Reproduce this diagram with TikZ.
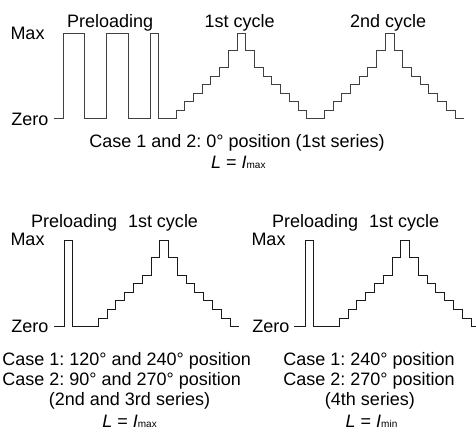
\documentclass[tikz,border=0pt]{standalone}
\usepackage{fontspec}
\setmainfont{Liberation Sans}
\frenchspacing
\begin{document}
\begin{tikzpicture}[x=1pt,y=-1pt,
  wave/.style={line width=0.9pt,draw=black!90,line join=miter},
  wavetop/.style={wave,draw=black!75},
  lbl/.style={inner sep=0pt,outer sep=0pt,anchor=base west,font=\fontsize{18}{21}\selectfont\frenchspacing},
  clbl/.style={lbl,anchor=base},
]
\useasboundingbox (0,0) rectangle (476,432);
\newcommand\subtxt[1]{{\fontsize{10}{12}\selectfont #1}}

% ---------- top panel ----------
\node[lbl] (tmax) at (10.5,39) {Max};
\node[lbl] (tzero) at (11.3,125) {Zero};
\node[lbl] (tpre) at (67,27.3) {Preloading};
\node[lbl] (tc1) at (204.7,27.3) {1st cycle};
\node[lbl] (tc2) at (350,27.3) {2nd cycle};
\node[clbl] (tcase) at (237,147.3) {Case 1 and 2: 0° position (1st series)};
\node[clbl] (tl) at (238.3,168) {\textit{L} = \textit{I}\subtxt{max}};

\draw[wavetop] (54,118.5) -- (63,118.5) |- (84,33.5) |- (106,118.5) |- (128,33.5)
  |- (150,118.5) |- (158,33.5) |- (176,118.5)
  \foreach \k/\l in {1/1,2/2,3/3,4/4,5/5,6/6,7/8,8/10,9/8,10/6,11/5,12/4,13/3,14/2,15/1}
    { |- ({176+8.72*\k},{118.5-8.5*\l}) }
  |- (324.24,118.5)
  \foreach \k/\l in {1/1,2/2,3/3,4/4,5/5,6/6,7/8,8/10,9/8,10/6,11/5,12/4,13/3,14/2,15/1}
    { |- ({324.24+8.72*\k},{118.5-8.5*\l}) }
  |- (463.76,118.5);

% ---------- bottom left panel ----------
\node[lbl] (lpre) at (31,227.3) {Preloading};
\node[lbl] (lc1) at (128,227.3) {1st cycle};
\node[lbl] (lmax) at (10.5,245.5) {Max};
\node[lbl] (lzero) at (11.3,332) {Zero};
\node[lbl] (lcase1) at (2.4,365) {Case 1: 120° and 240° position};
\node[lbl] (lcase2) at (2.4,385) {Case 2: 90° and 270° position};
\node[clbl] (lser) at (129.5,405) {(2nd and 3rd series)};
\node[clbl] (ll) at (129.6,427) {\textit{L} = \textit{I}\subtxt{max}};

\draw[wave] (54,326.7) -- (64,326.7) |- (72.3,240.7) |- (98.3,326.7)
  \foreach \k/\l in {1/1,2/2,3/3,4/4,5/5,6/6,7/8,8/10,9/8,10/6,11/5,12/4,13/3,14/2,15/1}
    { |- ({98.3+8.78*\k},{326.7-8.6*\l}) }
  |- (238.5,326.7);

% ---------- bottom right panel ----------
\node[lbl] (rpre) at (272,227.3) {Preloading};
\node[lbl] (rc1) at (369,227.3) {1st cycle};
\node[lbl] (rmax) at (251.5,245.5) {Max};
\node[lbl] (rzero) at (252.3,332) {Zero};
\node[lbl] (rcase1) at (283.4,365) {Case 1: 240° position};
\node[lbl] (rcase2) at (283.4,385) {Case 2: 270° position};
\node[clbl] (rser) at (370,405) {(4th series)};
\node[clbl] (rl) at (371.5,427) {\textit{L} = \textit{I}\subtxt{min}};

\draw[wave] (294.3,326.7) -- (305,326.7) |- (313.3,240.7) |- (339.3,326.7)
  \foreach \k/\l in {1/1,2/2,3/3,4/4,5/5,6/6,7/8,8/10,9/8,10/6,11/5,12/4,13/3,14/2,15/1}
    { |- ({339.3+8.78*\k},{326.7-8.6*\l}) }
  |- (479,326.7);
\end{tikzpicture}
\end{document}
